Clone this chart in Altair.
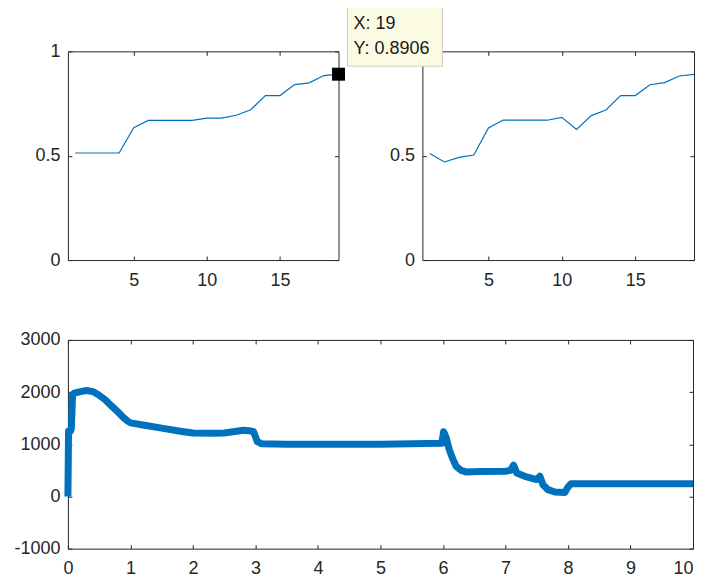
import altair as alt
import pandas as pd

# ---------------- data ----------------
iters = list(range(1, 20))
acc_left = [0.513, 0.513, 0.513, 0.513, 0.634, 0.669, 0.669, 0.669, 0.669, 0.680,
            0.680, 0.694, 0.720, 0.788, 0.788, 0.841, 0.849, 0.884, 0.8906]
acc_right = [0.511, 0.470, 0.492, 0.503, 0.633, 0.671, 0.670, 0.670, 0.670, 0.684,
             0.626, 0.692, 0.719, 0.788, 0.788, 0.840, 0.850, 0.882, 0.890]

t_sec = [0, 0.005, 0.01, 0.04, 0.055, 0.075, 0.1, 0.2, 0.3, 0.4, 0.5, 0.6, 0.7,
         0.8, 0.9, 0.95, 1.0, 1.2, 1.5, 1.8, 2.0, 2.3, 2.5, 2.7, 2.8, 2.9, 2.97,
         3.03, 3.1, 3.5, 4.0, 5.0, 5.98, 6.01, 6.05, 6.1, 6.16, 6.21, 6.29, 6.37,
         6.6, 7.0, 7.08, 7.13, 7.18, 7.31, 7.5, 7.55, 7.6, 7.68, 7.79, 7.95, 8.0,
         8.05, 8.5, 9.0, 10.0]
signal = [0, 600, 1250, 1250, 1300, 1950, 1980, 2010, 2030, 2010, 1940, 1850, 1730,
          1620, 1500, 1450, 1410, 1370, 1310, 1250, 1215, 1210, 1215, 1250, 1270, 1260, 1240,
          1050, 1010, 1000, 1000, 1000, 1020, 1240, 1130, 900, 710, 580, 500, 470,
          480, 484, 500, 600, 450, 387, 323, 387, 226, 130, 84, 77, 180,
          245, 245, 245, 245]

tip_x = 19
tip_y = 0.8906

top_xticks = [5, 10, 15]
top_yticks = [0, 0.5, 1]
bot_xticks = [0, 1, 2, 3, 4, 5, 6, 7, 8, 9, 10]
bot_yticks = [-1000, 0, 1000, 2000, 3000]

# ---------------- style ----------------
FONT = "Liberation Sans"
AX = "#262626"
BLUE = "#0072BD"
FS = 18

left_df = pd.DataFrame({"iter": iters, "acc": acc_left})
right_df = pd.DataFrame({"iter": iters, "acc": acc_right})
sig_df = pd.DataFrame({"t": t_sec, "v": signal})
tip_df = pd.DataFrame({"x": [tip_x], "y": [tip_y],
                       "lx": [f"X: {tip_x}"], "ly": [f"Y: {tip_y:.4f}"]})


def ax(orient, values, labels=True, pad=8, expr="'' + datum.value", align=None):
    kw = dict(orient=orient, values=values, tickSize=4, offset=-4, domain=False,
              grid=False, ticks=True, tickColor=AX, tickWidth=1, labels=labels)
    if labels:
        kw.update(labelFont=FONT, labelFontSize=FS, labelColor=AX, labelPadding=pad,
                  labelFlush=False, labelOverlap=False, labelExpr=expr)
        if align is not None:
            kw["labelAlign"] = align
    return alt.Axis(**kw)


x_top = alt.Scale(domain=[0.5, 19], nice=False, zero=False)
y_top = alt.Scale(domain=[0, 1], nice=False, zero=False)
x_bot = alt.Scale(domain=[0, 10], nice=False, zero=False)
y_bot = alt.Scale(domain=[-1000, 3000], nice=False, zero=False)

W_TL, W_TR, GAP = 271, 272, 84


def top_layers(df, yexpr):
    base = alt.Chart(df)
    line = base.mark_line(color=BLUE, strokeWidth=1.2).encode(
        x=alt.X("iter:Q", scale=x_top, axis=ax("bottom", top_xticks, pad=11), title=None),
        y=alt.Y("acc:Q", scale=y_top, axis=ax("left", top_yticks, pad=8, expr=yexpr), title=None),
    )
    mirror = base.mark_line(opacity=0).encode(
        x=alt.X("iter:Q", scale=x_top, axis=ax("top", top_xticks, labels=False), title=None),
        y=alt.Y("acc:Q", scale=y_top, axis=ax("right", top_yticks, labels=False), title=None),
    )
    return line, mirror


# datatip: marker on the data point in the left panel; the label box is drawn in
# the right panel's layer (same data coordinates, shifted back by the panel offset)
# so that it sits on top of that panel's frame, as in the original figure.
tip_base = alt.Chart(tip_df).encode(
    x=alt.X("x:Q", scale=x_top, axis=None),
    y=alt.Y("y:Q", scale=y_top, axis=None),
)
tip_marker = tip_base.mark_square(size=169, color="black", opacity=1)

shift = W_TL + GAP  # distance between the two panels' x=19 positions (px)
u = 50.0  # unit of the custom symbol path (sqrt(size)/2)
bx0, bx1 = (8 - shift) / u, (103 - shift) / u
tip_box = tip_base.mark_point(
    shape=f"M{bx0:.3f},-1.34H{bx1:.3f}V-0.16H{bx0:.3f}Z", size=(2 * u) ** 2, filled=True,
    fill="#fbfbe4", stroke="#cfcfbf", strokeWidth=1, opacity=1,
)
tip_t1 = tip_base.mark_text(align="left", baseline="middle", dx=14 - shift, dy=-50,
                            font=FONT, fontSize=FS, color="#1a1a1a").encode(text="lx:N")
tip_t2 = tip_base.mark_text(align="left", baseline="middle", dx=14 - shift, dy=-25,
                            font=FONT, fontSize=FS, color="#1a1a1a").encode(text="ly:N")

l1, m1 = top_layers(left_df, "'' + datum.value")
tl = alt.layer(l1, m1, tip_marker).properties(width=W_TL, height=209)

l2, m2 = top_layers(right_df, "datum.value == 1 ? '' : '' + datum.value")
tr = alt.layer(l2, m2, tip_box, tip_t1, tip_t2).properties(width=W_TR, height=209)

last_right = {"condition": {"test": "datum.value == 10", "value": "right"}, "value": "center"}
sig_base = alt.Chart(sig_df)
sig_line = sig_base.mark_line(color=BLUE, strokeWidth=7, strokeJoin="round").encode(
    x=alt.X("t:Q", scale=x_bot, axis=ax("bottom", bot_xticks, pad=11, align=last_right), title=None),
    y=alt.Y("v:Q", scale=y_bot, axis=ax("left", bot_yticks, pad=8), title=None),
)
sig_mirror = sig_base.mark_line(opacity=0).encode(
    x=alt.X("t:Q", scale=x_bot, axis=ax("top", bot_xticks, labels=False), title=None),
    y=alt.Y("v:Q", scale=y_bot, axis=ax("right", bot_yticks, labels=False), title=None),
)
bottom = alt.layer(sig_line, sig_mirror).properties(width=626, height=209)

top_row = alt.hconcat(tl, tr, spacing=GAP, bounds="flush")
chart = (
    alt.vconcat(top_row, bottom, spacing=40)
    .properties(padding={"left": 5, "top": -4, "right": 0, "bottom": 0}, background="white")
    .configure_view(stroke=AX, strokeWidth=1)
)

chart.save("out.html", embed_options={"renderer": "svg", "actions": False})
